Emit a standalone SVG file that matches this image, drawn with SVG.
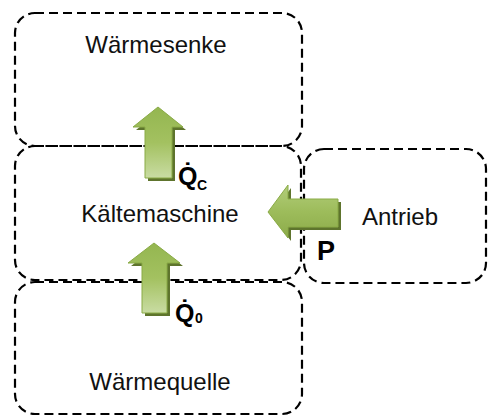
<svg xmlns="http://www.w3.org/2000/svg" width="488" height="416" viewBox="0 0 488 416">
  <style>
    .box { fill: none; stroke: #000; stroke-width: 2.2; stroke-dasharray: 9 5; }
    .label { font-family: "Liberation Sans", Arial, sans-serif; font-size: 24px; fill: #111; text-anchor: middle; }
    .sym { font-family: "Liberation Sans", Arial, sans-serif; font-weight: bold; fill: #000; }
    .shadow { fill: #5e742d; }
    .up { fill: url(#gUp); stroke: #8aab47; stroke-width: 1; }
    .left { fill: url(#gLeft); stroke: #8aab47; stroke-width: 1; }
  </style>
  <defs>
    <linearGradient id="gUp" x1="0" y1="0" x2="0" y2="1">
      <stop offset="0" stop-color="#94b650"/>
      <stop offset="0.5" stop-color="#a3c160"/>
      <stop offset="1" stop-color="#c9dca3"/>
    </linearGradient>
    <linearGradient id="gLeft" x1="0" y1="0" x2="0" y2="1">
      <stop offset="0" stop-color="#b2cd7a"/>
      <stop offset="0.5" stop-color="#9dbc5b"/>
      <stop offset="1" stop-color="#8cab4a"/>
    </linearGradient>
  </defs>

  <g id="waermesenke">
    <rect class="box" x="15" y="13" width="287" height="133" rx="20" ry="20"/>
    <text class="label" x="156" y="53">Wärmesenke</text>
  </g>

  <g id="kaeltemaschine">
    <rect class="box" x="15" y="146" width="286" height="134" rx="20" ry="20"/>
    <text class="label" x="160" y="222">Kältemaschine</text>
  </g>

  <g id="waermequelle">
    <rect class="box" x="15" y="282" width="287" height="132" rx="20" ry="20"/>
    <text class="label" x="160" y="390">Wärmequelle</text>
  </g>

  <g id="antrieb">
    <rect class="box" x="304" y="149" width="182" height="134" rx="20" ry="20"/>
    <text class="label" x="400" y="225">Antrieb</text>
  </g>

  <g id="connectors">
    <!-- heat flow to sink -->
    <path class="shadow" d="M161,110 L186,130 L175,130 L175,181 L148,181 L148,130 L136,130 Z"/>
    <path class="up" d="M158,107 L183,127 L172,127 L172,178 L145,178 L145,127 L133,127 Z"/>
    <!-- heat flow from source -->
    <path class="shadow" d="M157,246 L183,266 L170,266 L170,316 L145,316 L145,266 L131,266 Z"/>
    <path class="up" d="M154,243 L180,263 L167,263 L167,313 L142,313 L142,263 L128,263 Z"/>
    <!-- drive power -->
    <path class="shadow" d="M271,215 L291,188 L291,202 L341,202 L341,230 L291,230 L291,241 Z"/>
    <path class="left" d="M268,212 L288,185 L288,199 L338,199 L338,227 L288,227 L288,238 Z"/>

    <text class="sym" x="178" y="185" font-size="25">Q̇</text>
    <text class="sym" x="197" y="190" font-size="14">C</text>
    <text class="sym" x="175" y="322" font-size="25">Q̇</text>
    <text class="sym" x="195" y="323" font-size="14">0</text>
    <text class="sym" x="317" y="260" font-size="27">P</text>
  </g>
</svg>
